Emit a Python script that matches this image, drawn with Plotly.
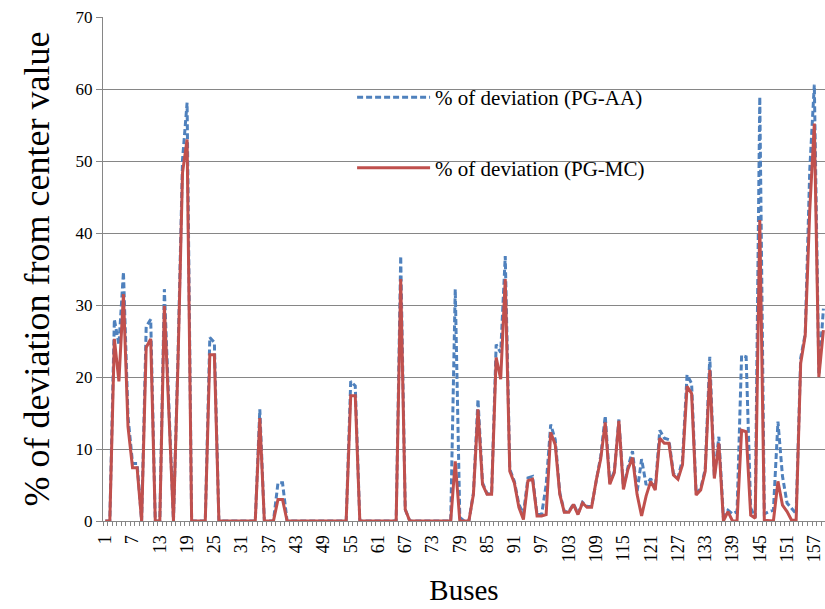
import plotly.graph_objects as go

buses = list(range(1, 160))

pg_mc = [
    0, 0, 25.3, 19.4, 31.5, 13.1, 7.4, 7.4, 0, 24.1,
    25.3, 0, 0, 29.9, 15.0, 0, 22.0, 48.4, 53.0, 0,
    0, 0, 0, 23.1, 23.1, 0, 0, 0, 0, 0,
    0, 0, 0, 0, 14.3, 0, 0, 0, 3.0, 3.0,
    0, 0, 0, 0, 0, 0, 0, 0, 0, 0,
    0, 0, 0, 0, 17.4, 17.4, 0, 0, 0, 0,
    0, 0, 0, 0, 0, 33.6, 1.6, 0, 0, 0,
    0, 0, 0, 0, 0, 0, 0, 8.3, 0, 0,
    0, 3.7, 15.5, 5.1, 3.7, 3.7, 22.7, 19.7, 33.6, 6.9,
    5.3, 1.9, 0.2, 5.6, 5.8, 0.7, 0.7, 0.9, 12.3, 10.6,
    3.7, 1.2, 1.2, 2.3, 0.9, 2.5, 1.9, 1.9, 5.6, 8.6,
    13.7, 5.1, 6.7, 13.9, 4.4, 7.2, 8.8, 3.7, 0.7, 3.5,
    5.5, 4.3, 11.5, 10.8, 10.8, 6.4, 5.8, 7.8, 18.7, 17.7,
    3.6, 4.3, 6.9, 21.0, 5.9, 10.8, 0, 1.3, 0, 0,
    12.6, 12.4, 0.8, 0.4, 41.8, 0.1, 0, 0, 5.5, 2.2,
    1.3, 0.1, 0.1, 21.9, 25.8, 43.2, 55.2, 20.0, 26.5,
]

pg_aa = [
    0, 0, 28.0, 24.5, 34.6, 14.5, 8.0, 8.0, 0, 27.0,
    28.0, 0, 0, 32.2, 16.0, 0, 23.0, 50.2, 58.1, 0,
    0, 0, 0, 25.5, 24.8, 0, 0, 0, 0, 0,
    0, 0, 0, 0, 15.5, 0, 0, 0, 5.3, 5.3,
    0, 0, 0, 0, 0, 0, 0, 0, 0, 0,
    0, 0, 0, 0, 19.4, 18.75, 0, 0, 0, 0,
    0, 0, 0, 0, 0, 36.8, 1.6, 0, 0, 0,
    0, 0, 0, 0, 0, 0, 0, 32.2, 0.5, 0,
    0, 3.9, 16.9, 5.3, 3.8, 3.8, 24.5, 23.4, 36.8, 7.2,
    5.5, 2.3, 1.0, 6.0, 6.2, 0.9, 0.9, 5.0, 13.4, 11.3,
    3.9, 1.3, 1.3, 2.4, 1.0, 2.6, 2.0, 2.0, 5.8, 9.0,
    14.6, 5.3, 6.9, 14.1, 4.6, 7.5, 9.7, 4.0, 8.6, 5.0,
    5.9, 4.5, 12.6, 11.5, 11.3, 6.6, 6.0, 8.5, 20.3, 19.1,
    3.8, 4.5, 7.2, 22.8, 6.2, 11.7, 0.5, 1.5, 1.0, 1.3,
    23.0, 22.8, 1.8, 0.5, 58.9, 1.0, 1.3, 1.5, 13.8, 6.2,
    2.5, 1.8, 1.0, 22.6, 26.0, 48.8, 60.6, 20.3, 29.5,
]

tick_vals = list(range(1, 160, 6))
tick_text = [str(v) for v in tick_vals]
y_ticks = list(range(0, 71, 10))

BLUE = "#4F81BD"
RED = "#C0504D"
GRID = "#868686"
FONT = "Liberation Serif"

fig = go.Figure()
fig.add_trace(go.Scatter(
    x=buses, y=pg_aa, mode="lines", name="% of deviation (PG-AA)",
    line=dict(color=BLUE, width=3, dash="6px,3px"), legend="legend",
))
fig.add_trace(go.Scatter(
    x=buses, y=pg_mc, mode="lines", name="% of deviation (PG-MC)",
    line=dict(color=RED, width=3), legend="legend2",
))

fig.update_layout(
    width=825, height=609,
    margin=dict(l=103, r=0, t=17, b=88),
    paper_bgcolor="white", plot_bgcolor="white",
    font=dict(family=FONT, color="black", size=17),
    showlegend=True,
    legend=dict(x=0.345, y=0.84, xanchor="left", yanchor="middle",
                bgcolor="rgba(0,0,0,0)", font=dict(size=21, family=FONT, color="black"),
                itemwidth=73),
    legend2=dict(x=0.345, y=0.70, xanchor="left", yanchor="middle",
                 bgcolor="rgba(0,0,0,0)", font=dict(size=21, family=FONT, color="black"),
                 itemwidth=73),
    xaxis=dict(
        range=[0.5, 159.35],
        tickmode="array", tickvals=tick_vals, ticktext=tick_text,
        tickangle=-90, ticks="", showgrid=False,
        showline=True, linecolor=GRID, linewidth=1,
        tickfont=dict(size=18, family=FONT, color="black"),
        ticklabelstandoff=6,
        minor=dict(ticks="outside", ticklen=4, tick0=0.5, dtick=1,
                   tickcolor=GRID, showgrid=False),
        title=dict(text="Buses", font=dict(size=29, family=FONT, color="black"), standoff=18),
        zeroline=False,
    ),
    yaxis=dict(
        range=[0, 70], tickvals=y_ticks,
        showgrid=True, gridcolor=GRID, gridwidth=1,
        showline=True, linecolor=GRID, linewidth=1,
        ticks="outside", ticklen=6, tickcolor=GRID,
        tickfont=dict(size=17, family=FONT, color="black"),
        title=dict(text="% of deviation from center value",
                   font=dict(size=36, family=FONT, color="black"), standoff=14),
        zeroline=False,
    ),
)

fig.write_html("out.html")
